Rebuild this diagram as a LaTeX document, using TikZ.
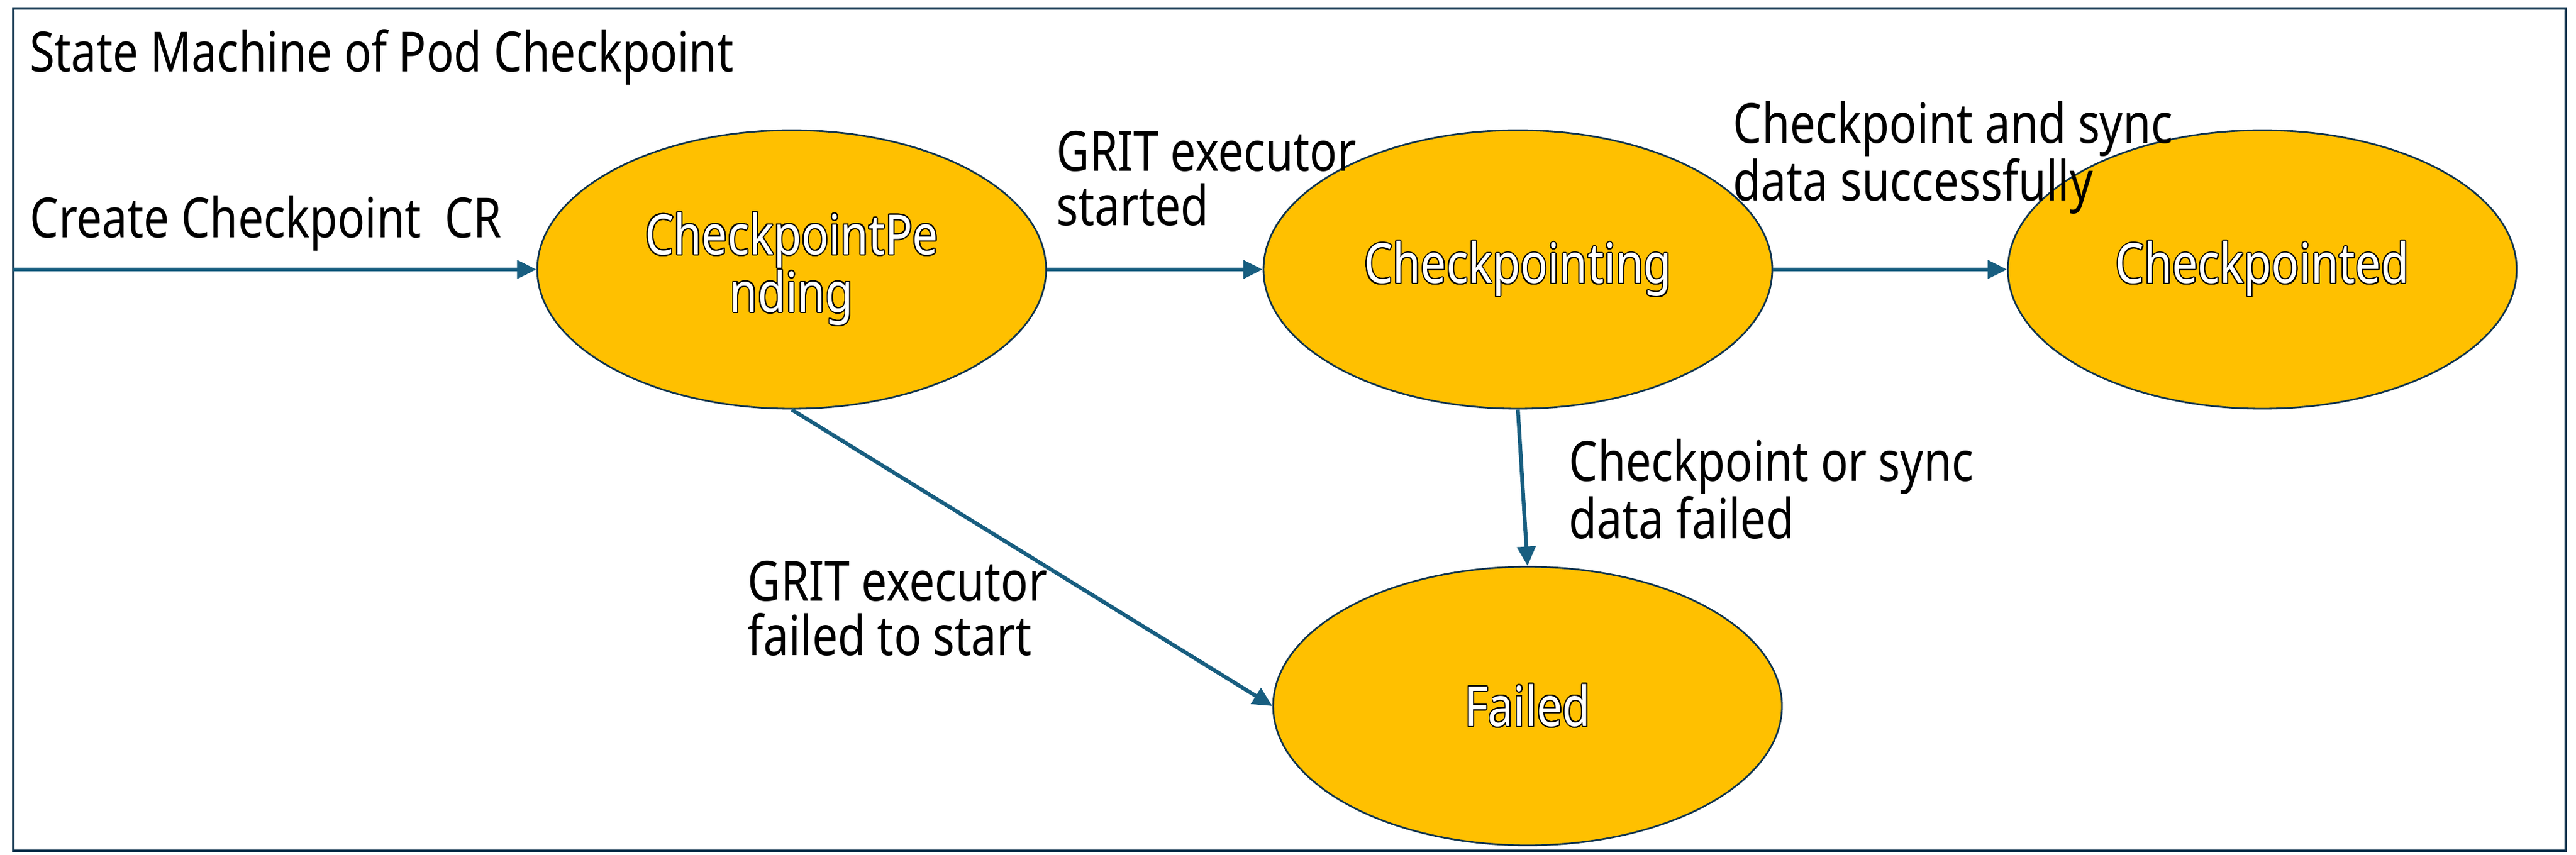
\documentclass[tikz,border=0pt]{standalone}
\usepackage{fontspec}
\setmainfont{Noto Sans}[FakeStretch=0.82]
\usepackage{contour}
\contourlength{0.55pt}
\usetikzlibrary{positioning,shapes.geometric,arrows.meta}
\definecolor{arrowblue}{RGB}{24,94,128}
\definecolor{rimblue}{RGB}{16,52,78}
\definecolor{fillgold}{RGB}{255,192,0}
\tikzset{state/.style={ellipse,draw=rimblue,line width=0.8pt,fill=fillgold,minimum width=8.4cm,minimum height=4.6cm,align=center,inner sep=0pt,font=\fontsize{26}{27}\selectfont},
  trans/.style={color=arrowblue,line width=1.8pt,-{Triangle[length=0.32cm,width=0.3cm]}},
  lbl/.style={inner sep=0pt,align=left,font=\fontsize{26}{25.5}\selectfont}}
\newcommand{\hollow}[1]{\contour{black}{\textcolor{white}{#1}}}

\begin{document}
\begin{tikzpicture}
    \useasboundingbox (0,0) rectangle (42.53,14.11);
    \draw[rimblue,line width=0.9pt] (0.22,0.06) rectangle (42.36,13.97);
    \node[lbl,anchor=base west] (title) at (0.49,12.92) {State Machine of Pod Checkpoint};
    % states
    \node[state] (pend) at (13.07,9.66) {\hollow{CheckpointPe}\\\hollow{nding}};
    \node[state] (cking) at (25.06,9.66) {\hollow{Checkpointing}};
    \node[state] (cked) at (37.35,9.66) {\hollow{Checkpointed}};
    \node[state] (fail) at (25.22,2.45) {\hollow{Failed}};
    \coordinate (in) at (0.22,9.66);
    % transitions
    \draw[trans] (in) -- (pend);
    \draw[trans] (pend) -- (cking);
    \draw[trans] (cking) -- (cked);
    \draw[trans] (cking.south) -- (fail.north);
    \draw[trans] (pend.south) -- (fail.west);
    \node[lbl,anchor=base west] (increate) at (0.49,10.18) {Create Checkpoint\ \ CR};
    \node[lbl,anchor=north west] (lstart) at (17.44,11.95) {GRIT executor\\started};
    \node[lbl,anchor=north west] (lok) at (28.61,12.45) {Checkpoint and sync\\data successfully};
    \node[lbl,anchor=north west] (lbad) at (25.90,6.87) {Checkpoint or sync\\data failed};
    \node[lbl,anchor=north west] (lnostart) at (12.34,4.85) {GRIT executor\\failed to start};
\end{tikzpicture}
\end{document}
